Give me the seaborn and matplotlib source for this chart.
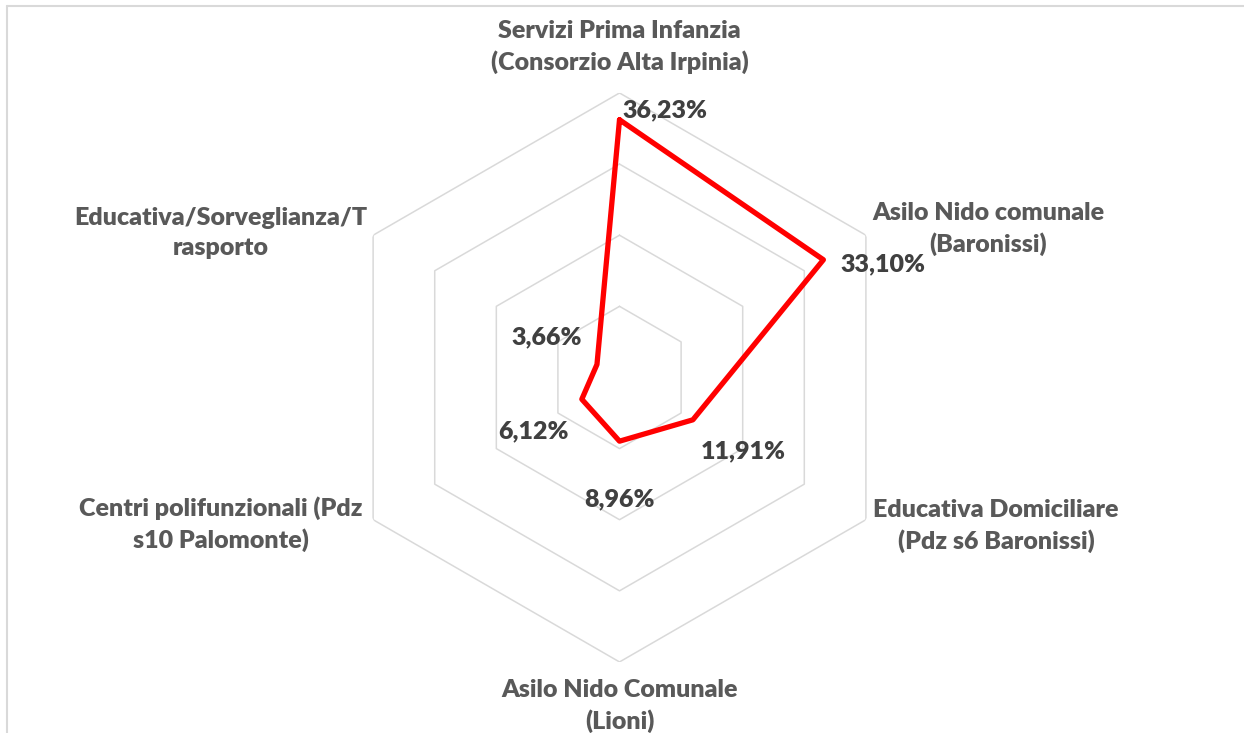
import numpy as np
import matplotlib
matplotlib.use("Agg")
import matplotlib.pyplot as plt
from matplotlib.lines import Line2D
import seaborn as sns

# data
categories = [
    "Servizi Prima Infanzia\n(Consorzio Alta Irpinia)",
    "Asilo Nido comunale\n(Baronissi)",
    "Educativa Domiciliare\n(Pdz s6 Baronissi)",
    "Asilo Nido Comunale\n(Lioni)",
    "Centri polifunzionali (Pdz\ns10 Palomonte)",
    "Educativa/Sorveglianza/T\nrasporto",
]
values = [36.23, 33.10, 11.91, 8.96, 6.12, 3.66]
rings = [10, 20, 30, 40]

# label offsets in pixels (x right, y up)
cat_offsets = [(0, 46), (122, 6), (130, -6), (0, -44), (-152, -4), (-152, 2)]
val_offsets = [(45, 9), (60, -5), (50, -31), (0, -58), (-48, -32), (-50, 27)]

sns.set_theme(style="white")
plt.rcParams["font.family"] = ["Lato", "DejaVu Sans"]

fig = plt.figure(figsize=(12.44, 7.33), dpi=100)
ax = fig.add_axes([0.2693, 0.0969, 0.4574, 0.7763], projection="polar")
ax.set_theta_offset(np.pi / 2)
ax.set_theta_direction(-1)

n = len(categories)
theta = np.arange(n) * 2 * np.pi / n
theta_c = np.append(theta, theta[0])

for r in rings:
    ax.plot(theta_c, [r] * (n + 1), color="#D9D9D9", lw=1.1, zorder=1)

vals_c = values + values[:1]
sns.lineplot(x=theta_c, y=vals_c, sort=False, ax=ax, color="#FF0000",
             lw=3.8, zorder=3, estimator=None)

ax.set_ylim(0, rings[-1])
ax.set_xticks([])
ax.set_yticks([])
ax.grid(False)
ax.spines["polar"].set_visible(False)
ax.set_facecolor("none")

for t, lab, (dx, dy) in zip(theta, categories, cat_offsets):
    ax.annotate(lab, xy=(t, rings[-1]), xytext=(dx, dy),
                textcoords="offset pixels", ha="center", va="center",
                multialignment="center", fontsize=18, fontweight="heavy",
                color="#595959", linespacing=1.42, annotation_clip=False)

for t, v, (dx, dy) in zip(theta, values, val_offsets):
    txt = f"{v:.2f}".replace(".", ",") + "%"
    ax.annotate(txt, xy=(t, v), xytext=(dx, dy), textcoords="offset pixels",
                ha="center", va="center", fontsize=18, fontweight="heavy",
                color="#404040", annotation_clip=False)

# chart frame (only top and left edges are visible in the crop)
fig.add_artist(Line2D([7 / 1244, 1.0], [1 - 6 / 733, 1 - 6 / 733],
                      transform=fig.transFigure, color="#D9D9D9", lw=1.5))
fig.add_artist(Line2D([7 / 1244, 7 / 1244], [0.0, 1 - 6 / 733],
                      transform=fig.transFigure, color="#D9D9D9", lw=1.5))

fig.savefig("out.png", dpi=100)
